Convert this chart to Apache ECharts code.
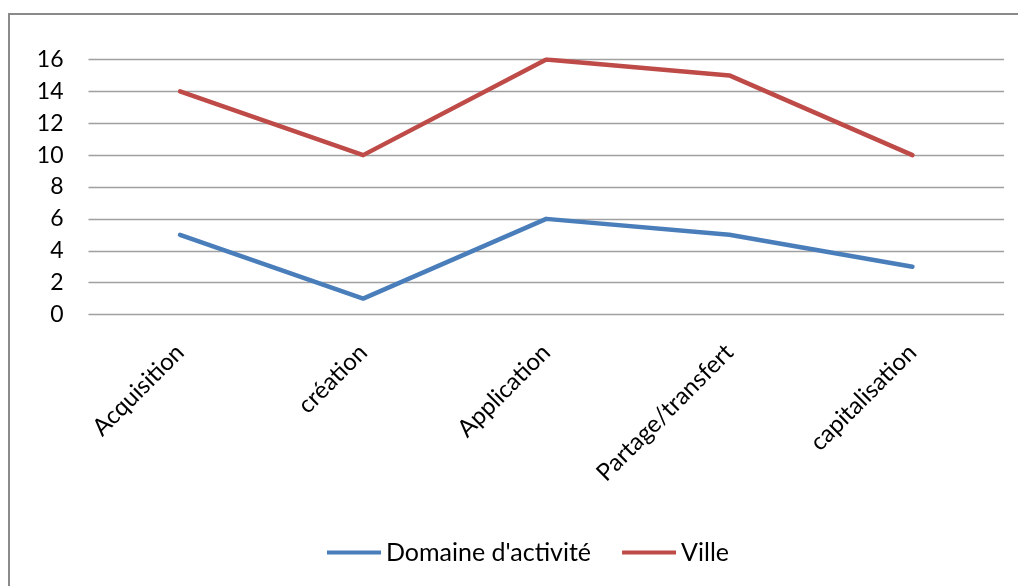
<!DOCTYPE html>
<html>
<head>
<meta charset="utf-8">
<script src="https://cdn.jsdelivr.net/npm/echarts@6/dist/echarts.min.js"></script>
<style>
  html, body { margin: 0; padding: 0; background: #fff; }
  #chart { width: 1018px; height: 586px; }
</style>
</head>
<body>
<div id="chart"></div>
<script>
// Étapes du cycle de connaissance
const categories = ['Acquisition', 'création', 'Application', 'Partage/transfert', 'capitalisation'];
const domaineValues = [5, 1, 6, 5, 3];
const villeValues = [14, 10, 16, 15, 10];
const seriesNames = ["Domaine d'activité", 'Ville'];

const FONT = 'Lato, "Open Sans", sans-serif';
const chart = echarts.init(document.getElementById('chart'), null, { renderer: 'canvas' });

chart.setOption({
  animation: false,
  backgroundColor: '#ffffff',
  graphic: [{
    type: 'rect',
    shape: { x: 9, y: 14, width: 1030, height: 600 },
    style: { fill: 'none', stroke: '#8a8a8a', lineWidth: 2 },
    silent: true,
    z: 0
  }],
  grid: { left: 88.5, right: 14, top: 59.5, bottom: 271.5, containLabel: false },
  legend: {
    data: seriesNames,
    top: 535,
    left: 322,
    icon: 'rect',
    itemWidth: 54,
    itemHeight: 4,
    itemGap: 31,
    textStyle: { fontFamily: FONT, fontSize: 25, color: '#000', padding: [0, 0, 0, 0] }
  },
  xAxis: {
    type: 'category',
    data: categories,
    boundaryGap: true,
    axisLine: { show: false },
    axisTick: { show: false },
    axisLabel: {
      rotate: 45,
      margin: 34,
      interval: 0,
      fontFamily: FONT,
      fontSize: 24,
      color: '#000'
    }
  },
  yAxis: {
    type: 'value',
    min: 0,
    max: 16,
    interval: 2,
    axisLine: { show: false },
    axisTick: { show: false },
    axisLabel: { margin: 25, fontFamily: FONT, fontSize: 23, color: '#000' },
    splitLine: { lineStyle: { color: '#a0a0a0', width: 1.3 } }
  },
  series: [
    {
      name: seriesNames[0],
      type: 'line',
      data: domaineValues,
      symbol: 'none',
      lineStyle: { color: '#4A7EBB', width: 4.5, cap: 'round', join: 'round' },
      itemStyle: { color: '#4A7EBB' }
    },
    {
      name: seriesNames[1],
      type: 'line',
      data: villeValues,
      symbol: 'none',
      lineStyle: { color: '#BE4B48', width: 4.5, cap: 'round', join: 'round' },
      itemStyle: { color: '#BE4B48' }
    }
  ]
});
</script>
</body>
</html>
